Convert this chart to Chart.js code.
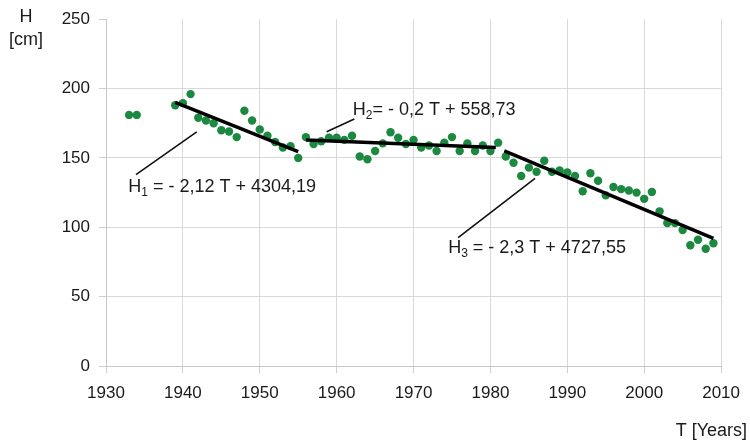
<!DOCTYPE html>
<html>
<head>
<meta charset="utf-8">
<script src="https://cdn.jsdelivr.net/npm/chart.js@4/dist/chart.umd.min.js"></script>
<style>
  html, body { margin: 0; padding: 0; background: #ffffff; }
  #wrap { width: 750px; height: 444px; }
</style>
</head>
<body>
<div id="wrap"><canvas id="c" width="750" height="444"></canvas></div>
<script>
// ---- data ----
const years = [1933,1934,1939,1940,1941,1942,1943,1944,1945,1946,1947,1948,1949,1950,1951,1952,1953,1954,1955,
  1956,1957,1958,1959,1960,1961,1962,1963,1964,1965,1966,1967,1968,1969,1970,1971,1972,1973,1974,1975,
  1976,1977,1978,1979,1980,1981,1982,1983,1984,1985,1986,1987,1988,1989,1990,1991,1992,1993,1994,1995,
  1996,1997,1998,1999,2000,2001,2002,2003,2004,2005,2006,2007,2008,2009];
const heights = [181,181,188,189.5,196,179,177,175,170,169,165,184,177,170.5,166,161.5,157.5,158.5,150,
  165,160,162,164.5,164.5,163,166,151,149,155,160.5,168.5,164.5,160,163,157.5,159,155,161,165,
  155,160.5,155,159,155,161,151,146.5,137,143,140,148,140,141,139.5,137,126,139,133.5,123,
  129,127.5,126.5,125,120.5,125.5,111.5,103,103,98,87,91,84.5,88.5];

// trend line end points (as drawn in the reference)
const trend1Years = [1939, 1955];
const trend1Heights = [190, 154.5];
const trend2Years = [1956, 1980.7];
const trend2Heights = [163, 157.5];
const trend3Years = [1981.8, 2009];
const trend3Heights = [155, 92];

const xTicks = [1930,1940,1950,1960,1970,1980,1990,2000,2010];
const yTicks = [0,50,100,150,200,250];

const eqLabels = [
  { main: 'H', sub: '1', rest: ' = - 2,12 T + 4304,19' },
  { main: 'H', sub: '2', rest: '= - 0,2 T + 558,73' },
  { main: 'H', sub: '3', rest: ' = - 2,3 T + 4727,55' }
];

// ---- build ----
const pts = years.map((y, i) => ({ x: y, y: heights[i] }));
const mk = (xs, ys) => xs.map((x, i) => ({ x: x, y: ys[i] }));

const FONT = "'Liberation Sans', Arial, sans-serif";
const TXT = '#1a1a1a';

// annotation placement (data coordinates)
const annPlace = [
  { text: [1932.9, 125.4], from: [1933.9, 138], to: [1941.8, 168.8] },
  { text: [1962.1, 181], from: [1958.7, 168.8], to: [1962.3, 178] },
  { text: [1974.5, 81.2], from: [1975.8, 92.6], to: [1985.8, 135.3] }
];

const textPlugin = {
  id: 'texts',
  afterDraw(chart) {
    const ctx = chart.ctx;
    const xs = chart.scales.x, ys = chart.scales.y;
    ctx.save();
    ctx.fillStyle = TXT;
    ctx.font = '18px ' + FONT;
    ctx.textAlign = 'center';
    ctx.textBaseline = 'middle';
    ctx.fillText('H', 26, 17);
    ctx.fillText('[cm]', 26, 40);
    ctx.textAlign = 'right';
    ctx.fillText('T [Years]', 747, 431);

    // leader lines
    ctx.strokeStyle = '#111';
    ctx.lineWidth = 1.6;
    annPlace.forEach((a, i) => {
      ctx.beginPath();
      ctx.moveTo(xs.getPixelForValue(a.from[0]), ys.getPixelForValue(a.from[1]));
      ctx.lineTo(xs.getPixelForValue(a.to[0]), ys.getPixelForValue(a.to[1]));
      ctx.stroke();
      const lab = eqLabels[i];
      let x = xs.getPixelForValue(a.text[0]);
      const y = ys.getPixelForValue(a.text[1]);
      ctx.textAlign = 'left';
      ctx.textBaseline = 'alphabetic';
      ctx.font = '18px ' + FONT;
      ctx.fillText(lab.main, x, y);
      x += ctx.measureText(lab.main).width;
      ctx.font = '12px ' + FONT;
      ctx.fillText(lab.sub, x, y + 4);
      x += ctx.measureText(lab.sub).width;
      ctx.font = '18px ' + FONT;
      ctx.fillText(lab.rest, x, y);
    });
    ctx.restore();
  }
};

const lineStyle = {
  type: 'scatter', showLine: true, borderColor: '#000000', borderWidth: 3.5,
  pointRadius: 0, pointHoverRadius: 0, fill: false, order: 0
};

new Chart(document.getElementById('c'), {
  type: 'scatter',
  data: {
    datasets: [
      Object.assign({ data: mk(trend1Years, trend1Heights) }, lineStyle),
      Object.assign({ data: mk(trend2Years, trend2Heights) }, lineStyle),
      Object.assign({ data: mk(trend3Years, trend3Heights) }, lineStyle),
      { data: pts, backgroundColor: '#1b8a40', borderColor: '#1b8a40', borderWidth: 0,
        pointRadius: 4.2, pointHoverRadius: 4.2, order: 1 }
    ]
  },
  options: {
    responsive: false,
    animation: false,
    devicePixelRatio: 1,
    layout: { padding: { left: 0, right: 28, top: 15, bottom: 0 } },
    plugins: { legend: { display: false }, tooltip: { enabled: false } },
    scales: {
      x: {
        type: 'linear', min: 1930, max: 2010,
        afterBuildTicks: s => { s.ticks = xTicks.map(v => ({ value: v })); },
        afterFit: s => { s.height = 78; },
        ticks: { color: TXT, font: { size: 17, family: FONT }, padding: 10, maxRotation: 0,
          callback: v => String(v) },
        grid: { color: '#d9d9d9', tickColor: '#cfcfcf', tickLength: 7, lineWidth: 1 },
        border: { color: '#c8c8c8' }
      },
      y: {
        type: 'linear', min: 0, max: 250,
        afterBuildTicks: s => { s.ticks = yTicks.map(v => ({ value: v })); },
        afterFit: s => { s.width = 106; },
        ticks: { color: TXT, font: { size: 17, family: FONT }, padding: 9,
          callback: v => String(v) },
        grid: { color: c => (c.tick && c.tick.value === 250) ? 'rgba(0,0,0,0)' : '#d9d9d9',
          tickColor: '#cfcfcf', tickLength: 7, lineWidth: 1 },
        border: { color: '#c8c8c8' }
      }
    }
  },
  plugins: [textPlugin]
});
</script>
</body>
</html>
